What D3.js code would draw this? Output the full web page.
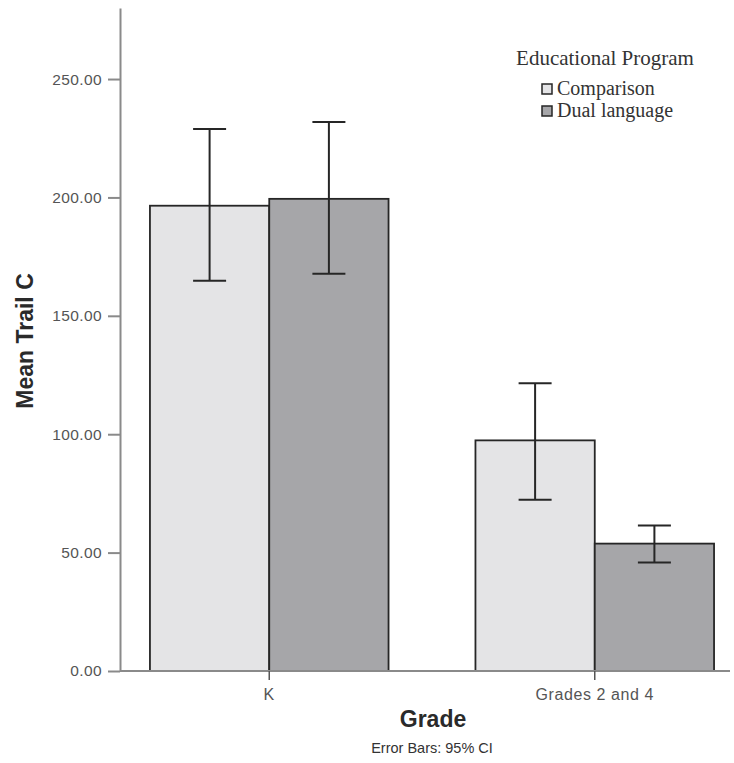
<!DOCTYPE html>
<html>
<head>
<meta charset="utf-8">
<script src="https://cdn.jsdelivr.net/npm/d3@7"></script>
<style>
  html, body { margin: 0; padding: 0; background: #fff; }
  svg { display: block; }
</style>
</head>
<body>
<svg id="chart" width="734" height="763"></svg>
<script>
// Mean Trail C by grade and educational program, with 95% CI error bars
const grades = ["K", "Grades 2 and 4"];
const programs = ["Comparison", "Dual language"];
const means = [
  [196.5, 199.4],  // K
  [97.4, 53.8]     // Grades 2 and 4
];
const ciLow = [
  [164.8, 167.8],
  [72.3, 45.8]
];
const ciHigh = [
  [228.9, 231.9],
  [121.5, 61.5]
];
const yTicks = [0, 50, 100, 150, 200, 250];
const fills = ["#e4e4e6", "#a6a6a9"];

const svg = d3.select("#chart");

const axisLeft = 120, axisBottom = 671, axisTop = 8;
const sans = "Liberation Sans, Arial, sans-serif";

const y = d3.scaleLinear().domain([0, 280]).range([axisBottom, axisTop]);

const x0 = d3.scaleBand()
  .domain(grades)
  .range([axisLeft, 744])
  .paddingInner(0.267)
  .paddingOuter(0.092);

const x1 = d3.scaleBand()
  .domain(programs)
  .range([0, x0.bandwidth()]);

// Bars
const groups = svg.append("g").selectAll("g")
  .data(grades)
  .join("g")
  .attr("transform", d => `translate(${x0(d)},0)`);

groups.selectAll("rect")
  .data((g, gi) => programs.map((p, pi) => ({ p, pi, v: means[gi][pi] })))
  .join("rect")
  .attr("x", d => x1(d.p))
  .attr("y", d => y(d.v))
  .attr("width", x1.bandwidth())
  .attr("height", d => y(0) - y(d.v))
  .attr("fill", d => fills[d.pi])
  .attr("stroke", "#262626")
  .attr("stroke-width", 1.8);

// Error bars
const capW = 33;
groups.selectAll("g.err")
  .data((g, gi) => programs.map((p, pi) => ({ p, lo: ciLow[gi][pi], hi: ciHigh[gi][pi] })))
  .join("g")
  .attr("class", "err")
  .each(function(d) {
    const cx = x1(d.p) + x1.bandwidth() / 2;
    const g = d3.select(this)
      .attr("stroke", "#262626")
      .attr("stroke-width", 2);
    g.append("line").attr("x1", cx).attr("x2", cx).attr("y1", y(d.hi)).attr("y2", y(d.lo));
    g.append("line").attr("x1", cx - capW / 2).attr("x2", cx + capW / 2).attr("y1", y(d.hi)).attr("y2", y(d.hi));
    g.append("line").attr("x1", cx - capW / 2).attr("x2", cx + capW / 2).attr("y1", y(d.lo)).attr("y2", y(d.lo));
  });

// Y axis
const yAxis = svg.append("g")
  .attr("transform", `translate(${axisLeft},0)`)
  .call(d3.axisLeft(y).tickValues(yTicks).tickFormat(d3.format(".2f")).tickSize(12).tickSizeOuter(0));
yAxis.select(".domain").attr("stroke", "#8a8a8a").attr("stroke-width", 2);
yAxis.selectAll(".tick line").attr("stroke", "#8a8a8a").attr("stroke-width", 2);
yAxis.selectAll(".tick text")
  .attr("x", -18)
  .attr("fill", "#555")
  .style("font-family", sans)
  .style("font-size", "15.5px")
  .style("letter-spacing", "0.4px");

// X axis
svg.append("line")
  .attr("x1", axisLeft).attr("x2", 730)
  .attr("y1", axisBottom).attr("y2", axisBottom)
  .attr("stroke", "#8a8a8a").attr("stroke-width", 2);

const xTicks = svg.append("g").selectAll("g")
  .data(grades)
  .join("g")
  .attr("transform", d => `translate(${x0(d) + x0.bandwidth() / 2},${axisBottom})`);
xTicks.append("line").attr("y1", 0).attr("y2", 9).attr("stroke", "#555").attr("stroke-width", 1.5);
xTicks.append("text")
  .attr("y", 29)
  .attr("text-anchor", "middle")
  .attr("fill", "#555")
  .style("font-family", sans)
  .style("font-size", "16px")
  .style("letter-spacing", "0.6px")
  .text(d => d);

// Axis titles
svg.append("text")
  .attr("transform", `translate(33,341) rotate(-90)`)
  .attr("text-anchor", "middle")
  .attr("fill", "#2a2a2a")
  .style("font-family", sans)
  .style("font-weight", "bold")
  .style("font-size", "23px")
  .text("Mean Trail C");

svg.append("text")
  .attr("x", 433).attr("y", 727)
  .attr("text-anchor", "middle")
  .attr("fill", "#2a2a2a")
  .style("font-family", sans)
  .style("font-weight", "bold")
  .style("font-size", "23px")
  .text("Grade");

svg.append("text")
  .attr("x", 432).attr("y", 753)
  .attr("text-anchor", "middle")
  .attr("fill", "#333")
  .style("font-family", sans)
  .style("font-size", "14.5px")
  .text("Error Bars: 95% CI");

// Legend
const legend = svg.append("g")
  .style("font-family", "Liberation Serif, Times New Roman, serif")
  .attr("fill", "#333");
legend.append("text")
  .attr("x", 605).attr("y", 65)
  .attr("text-anchor", "middle")
  .style("font-size", "21px")
  .text("Educational Program");
const items = legend.selectAll("g.item")
  .data(programs)
  .join("g")
  .attr("class", "item")
  .attr("transform", (d, i) => `translate(542,${84 + i * 22})`);
items.append("rect")
  .attr("width", 10).attr("height", 10)
  .attr("fill", (d, i) => fills[i])
  .attr("stroke", "#262626").attr("stroke-width", 1.5);
items.append("text")
  .attr("x", 15).attr("y", 11)
  .style("font-size", "20px")
  .text(d => d);
</script>
</body>
</html>
